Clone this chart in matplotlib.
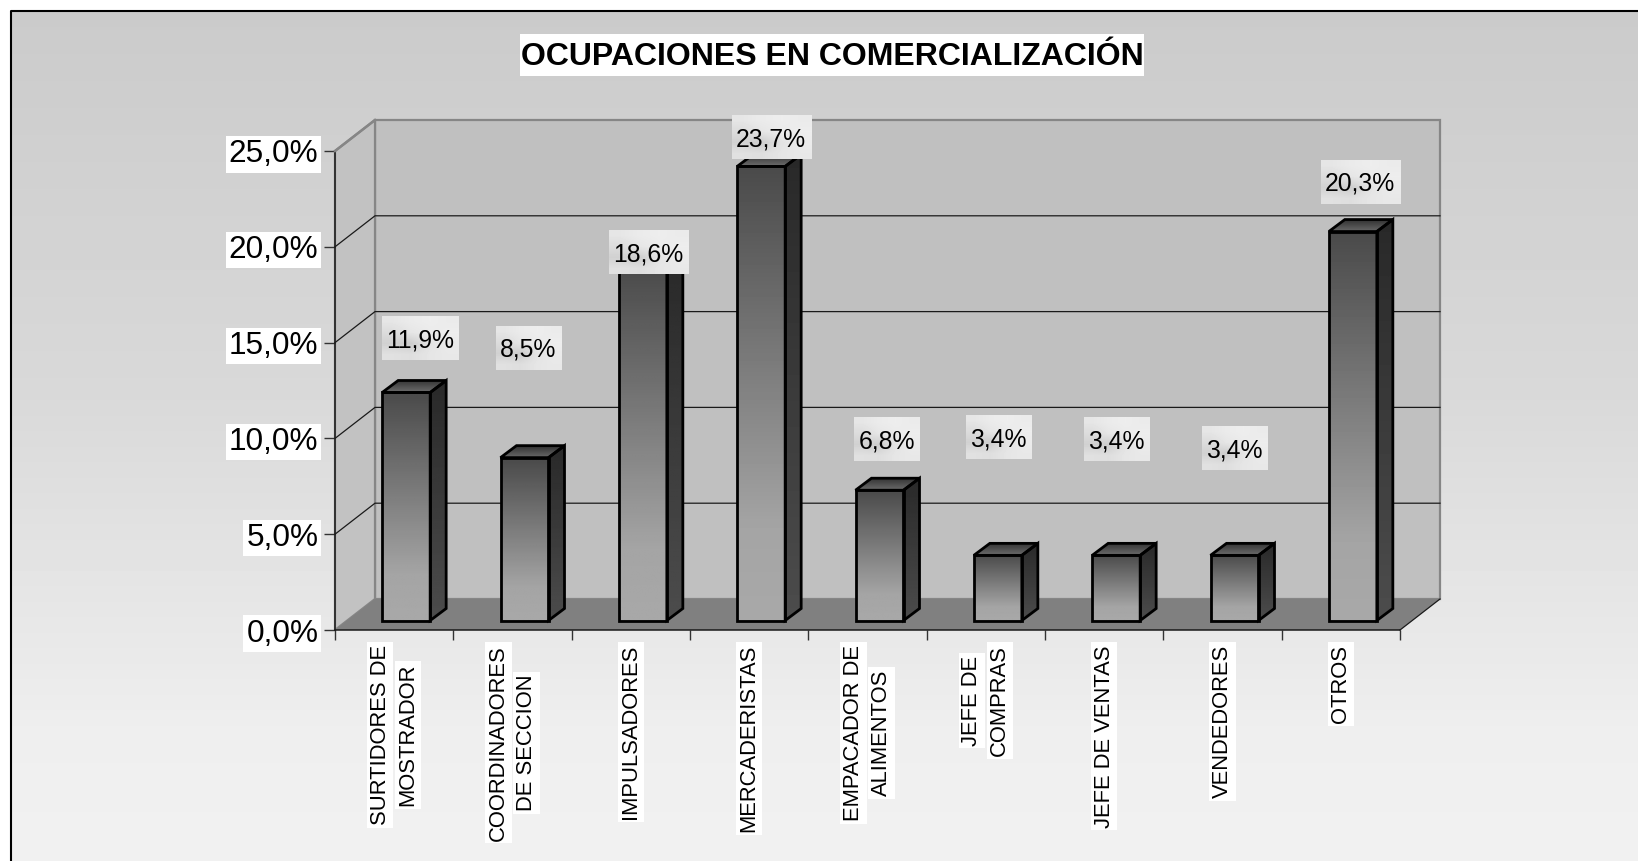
import numpy as np
import matplotlib
matplotlib.use("Agg")
import matplotlib.pyplot as plt
from matplotlib.patches import Polygon, Rectangle

plt.rcParams['font.family'] = ['Liberation Sans', 'DejaVu Sans']

title = "OCUPACIONES EN COMERCIALIZACIÓN"
categories = ["SURTIDORES DE\nMOSTRADOR", "COORDINADORES\nDE SECCION", "IMPULSADORES",
              "MERCADERISTAS", "EMPACADOR DE\nALIMENTOS", "JEFE DE\nCOMPRAS",
              "JEFE DE VENTAS", "VENDEDORES", "OTROS"]
values = [11.9, 8.5, 18.6, 23.7, 6.8, 3.4, 3.4, 3.4, 20.3]
y_ticks = [0, 5, 10, 15, 20, 25]

# the data labels sit by hand away from their bars in the original (pixels)
label_dx = [14, 4, 5, 10, 7, 0, 0, 0, 7]
label_dy = [54, 110, 12, 29, 51, 118, 116, 107, 50]

W, H = 1638, 861
LEFT, RIGHT, TOP, BOTTOM = 335, 1400, 151, 630

fig = plt.figure(figsize=(W / 100, H / 100), dpi=100, facecolor='white')


# an axes covering the whole figure, measured in pixels from the top left
def pixel_axes(zorder):
    a = fig.add_axes([0, 0, 1, 1], zorder=zorder)
    a.set_xlim(0, W)
    a.set_ylim(H, 0)
    a.axis('off')
    a.patch.set_alpha(0)
    return a


# vertical grey gradient from (position, grey) stops
def ramp(stops, n=128):
    t = np.linspace(0, 1, n)
    g = np.interp(t, [s[0] for s in stops], [s[1] for s in stops])
    return g.reshape(-1, 1)


def grey_image(a, img, extent, zorder, clip=None):
    im = a.imshow(img, cmap='gray', vmin=0, vmax=1, aspect='auto', extent=extent,
                  origin='upper', interpolation='bilinear', zorder=zorder)
    if clip is not None:
        im.set_clip_path(clip)
    return im


# page background and the frame, which only shows on the left and top
bg = pixel_axes(0)
grey_image(bg, ramp([(0, 0.795), (0.45, 0.85), (0.85, 0.935), (1, 0.945)]), (11, W, H, 11), 1)
bg.set_xlim(0, W)
bg.set_ylim(H, 0)
bg.plot([11, 11, W], [H, 11, 11], color='black', lw=1.5, zorder=2)

# chart axes = the front plane of the 3D box
ax = fig.add_axes([LEFT / W, 1 - BOTTOM / H, (RIGHT - LEFT) / W, (BOTTOM - TOP) / H], zorder=1)
ax.patch.set_alpha(0)
ax.set_xlim(0, len(values))
ax.set_ylim(0, 25)
ax.set_autoscale_on(False)

sx = (RIGHT - LEFT) / len(values)   # pixels per category
sy = (BOTTOM - TOP) / 25            # pixels per percent
wall_dx, wall_dy = 40 / sx, 31 / sy
bar_dx, bar_dy = 16 / sx, 12 / sy
bar_w = 48 / sx
bar_shift = 12 / sx
bar_base = 9.5 / sy

x0, x1 = 0, len(values)
ymax = 25

# back wall, side wall, floor
ax.add_patch(Polygon([(x0 + wall_dx, wall_dy), (x1 + wall_dx, wall_dy),
                      (x1 + wall_dx, ymax + wall_dy), (x0 + wall_dx, ymax + wall_dy)],
                     facecolor='#c0c0c0', edgecolor='#868686', lw=1.6, clip_on=False, zorder=1))
ax.add_patch(Polygon([(x0, 0), (x0 + wall_dx, wall_dy), (x0 + wall_dx, ymax + wall_dy), (x0, ymax)],
                     facecolor='#c2c2c2', edgecolor='#868686', lw=1.6, clip_on=False, zorder=1.1))
ax.add_patch(Polygon([(x0, 0), (x1, 0), (x1 + wall_dx, wall_dy), (x0 + wall_dx, wall_dy)],
                     facecolor='#808080', edgecolor='none', clip_on=False, zorder=1.2))

# gridlines run along the side wall then across the back wall
for v in y_ticks[1:-1]:
    ax.plot([x0, x0 + wall_dx, x1 + wall_dx], [v, v + wall_dy, v + wall_dy],
            color='#1a1a1a', lw=0.9, clip_on=False, zorder=1.5)
ax.plot([x1, x1 + wall_dx], [0, wall_dy], color='#1a1a1a', lw=0.9, clip_on=False, zorder=1.5)

# bars
front_ramp = ramp([(0, 0.29), (0.8, 0.645), (1, 0.66)])
side_ramp = ramp([(0, 0.16), (1, 0.30)])
top_ramp = ramp([(0, 0.2), (1, 0.42)])
centers = np.arange(len(values)) + 0.5 + bar_shift
rects = ax.bar(centers, values, bar_w, bottom=bar_base, facecolor='none', edgecolor='black',
               lw=2, clip_on=False, zorder=3.3)
for c, v, r in zip(centers, values, rects):
    l, rgt = c - bar_w / 2, c + bar_w / 2
    t = bar_base + v
    side = Polygon([(rgt, bar_base), (rgt + bar_dx, bar_base + bar_dy),
                    (rgt + bar_dx, t + bar_dy), (rgt, t)],
                   facecolor='none', edgecolor='black', lw=2, clip_on=False, zorder=3.2)
    cap = Polygon([(l, t), (rgt, t), (rgt + bar_dx, t + bar_dy), (l + bar_dx, t + bar_dy)],
                  facecolor='none', edgecolor='black', lw=2, clip_on=False, zorder=3.2)
    ax.add_patch(side)
    ax.add_patch(cap)
    grey_image(ax, front_ramp, (l, rgt, bar_base, t), 3, r)
    grey_image(ax, side_ramp, (rgt, rgt + bar_dx, bar_base, t + bar_dy), 3, side)
    grey_image(ax, top_ramp, (l, rgt + bar_dx, t, t + bar_dy), 3, cap)

# real axes: spines and ticks on the front plane
ax.set_xlim(0, len(values))
ax.set_ylim(0, 25)
for name in ['top', 'right']:
    ax.spines[name].set_visible(False)
for name in ['left', 'bottom']:
    ax.spines[name].set_linewidth(1.1)
    ax.spines[name].set_color('#1a1a1a')
    ax.spines[name].set_zorder(2)
ax.set_xticks(np.arange(len(values) + 1))
ax.set_xticklabels([])
ax.set_yticks(y_ticks)
ax.set_yticklabels([("%.1f%%" % v).replace('.', ',') for v in y_ticks])
ax.tick_params(axis='x', length=7.2, width=1, color='#333333')
ax.tick_params(axis='y', length=8, width=1, color='#333333', pad=4, labelsize=22.7)
for lab in ax.get_yticklabels():
    lab.set_bbox(dict(facecolor='white', edgecolor='none', boxstyle='square,pad=0.1'))

# top edge of the side wall is grey
ax.plot([x0, x0 + wall_dx], [ymax, ymax + wall_dy], color='#868686', lw=1.8, clip_on=False, zorder=2.1)

# everything written on top goes in a pixel axes
ov = pixel_axes(3)
renderer = fig.canvas.get_renderer()

ov.add_patch(Rectangle((520, 33.5), 624, 42, facecolor='white', edgecolor='none', zorder=1))
ov.text(832, 57, title, fontsize=23, fontweight='bold', ha='center', va='center', zorder=2)

# category labels: each line has its own white box, the longest one hangs from y=645
for i, cat in enumerate(categories):
    cx = ax.transData.transform((i + 0.5, 0))[0]
    lines = cat.split('\n')
    texts = []
    for j, line in enumerate(lines):
        off = (j - (len(lines) - 1) / 2) * 28
        texts.append(ov.text(cx + off, 0, line, rotation=90, fontsize=15.8, ha='center', va='center',
                             bbox=dict(facecolor='white', edgecolor='none', boxstyle='square,pad=0.12')))
    longest = max(t.get_window_extent(renderer).height for t in texts)
    for t in texts:
        t.set_y(645 + longest / 2)

# data labels on their mottled light boxes
box_img = np.array([[0.90, 0.92, 0.93, 0.92],
                    [0.86, 0.90, 0.92, 0.93],
                    [0.82, 0.80, 0.89, 0.92],
                    [0.88, 0.87, 0.90, 0.91]])
for c, v, dx, dy in zip(centers, values, label_dx, label_dy):
    px, py = ax.transData.transform((c, bar_base + v))
    px, py = px + dx, H - py - dy
    s = ("%.1f%%" % v).replace('.', ',')
    t = ov.text(px, py + 2, s, fontsize=17.8, ha='center', va='center', zorder=5)
    tw = t.get_window_extent(renderer).width
    grey_image(ov, box_img, (px - tw / 2 - 4, px + tw / 2 + 5, py + 22, py - 22), 4)
ov.set_xlim(0, W)
ov.set_ylim(H, 0)

fig.savefig("out.png", dpi=100)
